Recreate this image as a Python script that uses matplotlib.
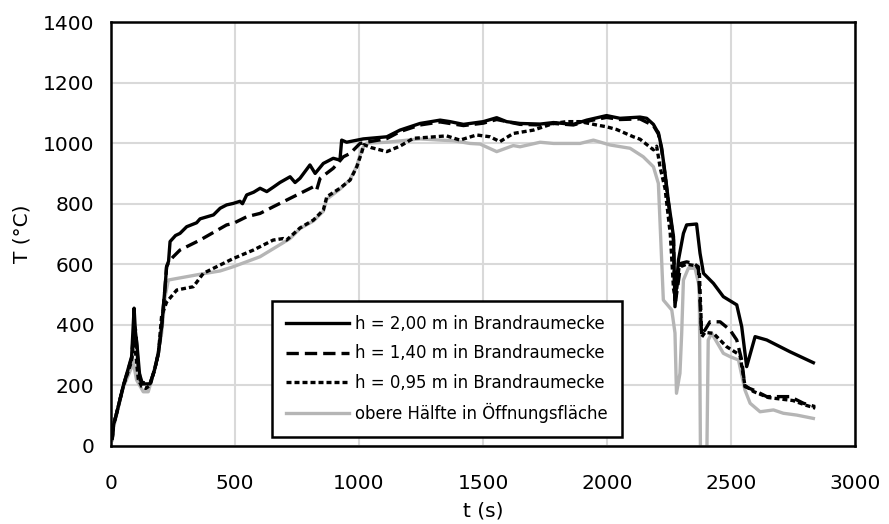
import matplotlib
matplotlib.use("Agg")
import matplotlib.pyplot as plt

plt.rcParams['font.family'] = ['DejaVu Sans']

# Temperaturverlauf h = 2,00 m in Brandraumecke
t_200 = [5, 10, 20, 50, 83, 93, 98, 105, 117, 130, 157, 175, 191, 204, 218, 224, 232, 238,
         260, 278, 305, 345, 359, 413, 440, 466, 493, 520, 530, 547, 575, 601, 628, 655, 681,
         722, 742, 762, 802, 823, 856, 896, 923, 930, 950, 1017, 1112, 1165, 1246, 1327, 1367,
         1421, 1501, 1555, 1595, 1649, 1730, 1784, 1864, 1918, 1998, 2052, 2133, 2160, 2187,
         2200, 2207, 2220, 2234, 2247, 2268, 2274, 2288, 2308, 2321, 2361, 2375, 2389, 2429,
         2469, 2523, 2543, 2563, 2597, 2644, 2738, 2832]
T_200 = [25, 70, 100, 200, 295, 455, 380, 330, 218, 205, 205, 250, 306, 394, 526, 592, 610, 675,
         695, 702, 724, 737, 750, 763, 785, 796, 801, 808, 800, 829, 838, 851, 840, 855, 870,
         889, 870, 884, 928, 900, 933, 950, 944, 1010, 1003, 1014, 1021, 1043, 1065, 1076, 1071,
         1062, 1071, 1084, 1071, 1065, 1063, 1068, 1062, 1076, 1091, 1082, 1086, 1082, 1062,
         1043, 1035, 985, 900, 812, 691, 460, 614, 702, 730, 733, 636, 570, 537,
         493, 466, 394, 262, 361, 350, 311, 275]

# h = 1,40 m in Brandraumecke
t_140 = [5, 10, 20, 50, 83, 93, 100, 110, 125, 157, 175, 191, 204, 218, 224, 235, 251, 278,
         359, 466, 493, 547, 601, 654, 735, 762, 816, 829, 843, 896, 937, 964, 1004, 1044,
         1112, 1165, 1246, 1327, 1421, 1501, 1555, 1649, 1730, 1784, 1864, 1918, 1998, 2052,
         2133, 2187, 2207, 2220, 2234, 2247, 2268, 2274, 2298, 2321, 2348, 2368, 2381, 2395,
         2415, 2456, 2496, 2523, 2543, 2556, 2590, 2644, 2738, 2792, 2839]
T_140 = [25, 70, 100, 200, 290, 400, 380, 250, 210, 205, 250, 306, 394, 526, 592, 610, 625, 647,
         680, 730, 735, 757, 768, 790, 823, 834, 856, 845, 884, 917, 955, 966, 999, 1005,
         1015, 1038, 1060, 1070, 1058, 1066, 1078, 1062, 1060, 1065, 1060, 1072, 1085, 1078,
         1080, 1058, 1030, 980, 895, 805, 680, 465, 603, 608, 603, 592, 372, 383,
         410, 410, 383, 350, 284, 196, 185, 163, 163, 141, 130]

# h = 0,95 m in Brandraumecke
t_095 = [5, 10, 20, 50, 83, 92, 100, 110, 124, 140, 157, 175, 191, 204, 224, 265, 332, 372,
         426, 493, 574, 654, 695, 708, 762, 816, 856, 870, 923, 964, 991, 1011, 1020, 1050,
         1112, 1165, 1219, 1273, 1353, 1407, 1474, 1528, 1568, 1622, 1703, 1784, 1837, 1891,
         1958, 1998, 2039, 2106, 2133, 2187, 2200, 2214, 2234, 2255, 2268, 2276, 2290, 2320,
         2360, 2372, 2382, 2395, 2429, 2482, 2536, 2556, 2590, 2650, 2700, 2750, 2800, 2840]
T_095 = [25, 70, 100, 200, 280, 350, 300, 220, 196, 190, 200, 250, 306, 430, 475, 515, 526, 570,
         592, 619, 647, 680, 685, 680, 720, 746, 779, 823, 851, 878, 922, 970, 995, 985,
         972, 990, 1016, 1019, 1024, 1010, 1027, 1021, 1005, 1032, 1043, 1065, 1071, 1071,
         1060, 1054, 1045, 1021, 1013, 978, 990, 920, 850, 700, 520, 480, 590, 600,
         595, 580, 360, 375, 372, 328, 300, 200, 180, 160, 155, 150, 135, 125]

# obere Hälfte in Öffnungsfläche
t_off = [5, 10, 20, 50, 83, 90, 103, 130, 150, 168, 184, 204, 218, 231, 278, 359, 440, 493,
         601, 722, 762, 816, 856, 870, 923, 964, 991, 1011, 1030, 1112, 1246, 1327, 1380,
         1447, 1488, 1555, 1622, 1649, 1730, 1784, 1891, 1945, 2012, 2093, 2146, 2187, 2207,
         2227, 2261, 2274, 2280, 2294, 2301, 2308, 2328, 2355, 2372, 2377, 2402, 2408, 2422,
         2469, 2496, 2530, 2556, 2577, 2617, 2671, 2711, 2765, 2832]
T_off = [20, 60, 95, 195, 260, 275, 218, 179, 179, 230, 284, 372, 493, 548, 555, 567, 578, 592,
         625, 685, 718, 743, 775, 815, 848, 880, 925, 980, 1000, 1003, 1014, 1010, 1008,
         999, 997, 972, 992, 988, 1003, 999, 999, 1010, 994, 983, 955, 922, 867,
         482, 449, 373, 174, 240, 372, 548, 587, 587, 526, -60, -60, 350, 372,
         306, 295, 284, 185, 141, 113, 119, 108, 102, 91]

labels = ["h = 2,00 m in Brandraumecke",
          "h = 1,40 m in Brandraumecke",
          "h = 0,95 m in Brandraumecke",
          "obere Hälfte in Öffnungsfläche"]

x_ticks = [0, 500, 1000, 1500, 2000, 2500, 3000]
y_ticks = [0, 200, 400, 600, 800, 1000, 1200, 1400]

fig = plt.figure(figsize=(8.89, 5.24), dpi=100)
ax = fig.add_axes([0.1249, 0.1489, 0.8369, 0.8091])

lw = 2.4
l1, = ax.plot(t_200, T_200, color="black", lw=lw, solid_joinstyle="round", zorder=4)
l2, = ax.plot(t_140, T_140, color="black", lw=lw, dashes=(3.7, 1.8), zorder=3)
l3, = ax.plot(t_095, T_095, color="black", lw=lw, dashes=(1.5, 0.9), zorder=3)
l4, = ax.plot(t_off, T_off, color="#b5b5b5", lw=lw, solid_joinstyle="round", zorder=2)

ax.set_xlim(0, 3000)
ax.set_ylim(0, 1400)
ax.set_xticks(x_ticks)
ax.set_yticks(y_ticks)
ax.grid(True, color="#d9d9d9", lw=1.5)
ax.set_axisbelow(True)
ax.tick_params(length=0, labelsize=14.5)
ax.tick_params(axis="x", pad=20)
ax.tick_params(axis="y", pad=12)
for s in ax.spines.values():
    s.set_linewidth(1.8)
    s.set_color("black")

ax.set_xlabel("t (s)", fontsize=14.5, labelpad=6)
ax.set_ylabel("T (°C)", fontsize=14.5, labelpad=8)

leg = ax.legend([l1, l2, l3, l4], labels, loc="lower left", fontsize=11.9,
                handlelength=3.8, handletextpad=0.37, labelspacing=0.68,
                borderpad=0.85, borderaxespad=0, fancybox=False, framealpha=1,
                edgecolor="black",
                bbox_to_anchor=(272 / 889, (524 - 437) / 524),
                bbox_transform=fig.transFigure)
leg.get_frame().set_linewidth(1.8)

fig.savefig("out.png", dpi=100)
